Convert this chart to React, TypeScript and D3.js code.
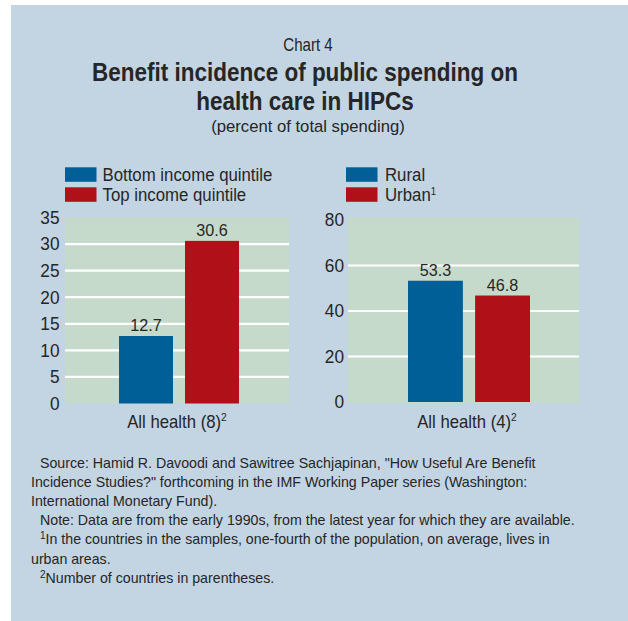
import React from "react";
import * as d3 from "d3";

const incomeCategories = ["Bottom income quintile", "Top income quintile"];
const incomeValues = [12.7, 30.6];
const incomeTicks = [0, 5, 10, 15, 20, 25, 30, 35];
const incomeAxisLabel = "All health (8)";

const areaCategories = ["Rural", "Urban"];
const areaValues = [53.3, 46.8];
const areaTicks = [0, 20, 40, 60, 80];
const areaAxisLabel = "All health (4)";

const footLines = [
  { t: "Source: Hamid R. Davoodi and Sawitree Sachjapinan, \"How Useful Are Benefit", indent: true, sup: "" },
  { t: "Incidence Studies?\" forthcoming in the IMF Working Paper series (Washington:", indent: false, sup: "" },
  { t: "International Monetary Fund).", indent: false, sup: "" },
  { t: "Note: Data are from the early 1990s, from the latest year for which they are available.", indent: true, sup: "" },
  { t: "In the countries in the samples, one-fourth of the population, on average, lives in", indent: true, sup: "1" },
  { t: "urban areas.", indent: false, sup: "" },
  { t: "Number of countries in parentheses.", indent: true, sup: "2" },
];

const COLORS = ["#005f97", "#b01018"];
const FONT = "'Liberation Sans', Arial, sans-serif";
const TEXT = "#262626";
const BG = "#c3d4e3";
const PLOT_BG = "#c6dacb";

type TProps = {
  x: number;
  y: number;
  sx?: number;
  size: number;
  anchor?: "start" | "middle" | "end";
  weight?: string;
  children?: React.ReactNode;
};

function T({ x, y, sx = 1, size, anchor = "start", weight = "normal", children }: TProps) {
  return (
    <text
      transform={`translate(${x},${y}) scale(${sx},1)`}
      textAnchor={anchor}
      fontSize={size}
      fontWeight={weight}
      fill={TEXT}
      fontFamily={FONT}
    >
      {children}
    </text>
  );
}

type PanelProps = {
  cats: string[];
  vals: number[];
  ticks: number[];
  domainMax: number;
  plotX0: number;
  plotX1: number;
  barX0: number;
  barX1: number;
  yTop: number;
  yZero: number;
  tickRight: number;
  legendX: number;
  legendTextX: number;
  label: string;
  labelSup: string;
  sups: string[];
};

function Panel(p: PanelProps) {
  const plotTop = 217.5;
  const plotBottom = 403;
  const y = d3.scaleLinear().domain([0, p.domainMax]).range([p.yZero, p.yTop]);
  const x = d3
    .scaleBand<string>()
    .domain(p.cats)
    .range([p.barX0, p.barX1])
    .paddingInner(12 / 66);
  const center = (p.barX0 + p.barX1) / 2;
  return (
    <g>
      {p.cats.map((c, i) => (
        <g key={c}>
          <rect x={p.legendX} y={167.3 + i * 20} width={31.5} height={14.5} fill={COLORS[i]} />
          <T x={p.legendTextX} y={180.7 + i * 20} size={17.5} sx={0.96}>
            {c}
            {p.sups[i] ? (
              <tspan fontSize={10} dy={-6}>
                {p.sups[i]}
              </tspan>
            ) : null}
          </T>
        </g>
      ))}
      <rect x={p.plotX0} y={plotTop} width={p.plotX1 - p.plotX0} height={plotBottom - plotTop} fill={PLOT_BG} />
      {p.ticks
        .filter((t) => t > 0 && t < p.domainMax)
        .map((t) => (
          <line key={t} x1={p.plotX0} x2={p.plotX1} y1={y(t)} y2={y(t)} stroke="#ffffff" strokeWidth={2.2} />
        ))}
      {p.ticks.map((t) => (
        <T key={"t" + t} x={p.tickRight} y={y(t) + 6.3} anchor="end" size={17.8} sx={0.97}>
          {t}
        </T>
      ))}
      {p.cats.map((c, i) => (
        <g key={"b" + c}>
          <rect
            x={x(c)}
            y={y(p.vals[i])}
            width={x.bandwidth()}
            height={p.yZero - y(p.vals[i])}
            fill={COLORS[i]}
          />
          <T x={(x(c) as number) + x.bandwidth() / 2} y={y(p.vals[i]) - 5} anchor="middle" size={16.5} sx={0.98}>
            {p.vals[i].toFixed(1)}
          </T>
        </g>
      ))}
      <T x={center - 2} y={428.3} anchor="middle" size={18} sx={0.93}>
        {p.label}
        <tspan fontSize={11} dy={-7}>
          {p.labelSup}
        </tspan>
      </T>
    </g>
  );
}

export default function App() {
  return (
    <svg
      width={628}
      height={621}
      style={{ position: "absolute", left: 0, top: 0, display: "block" }}
      fontFamily={FONT}
    >
      <rect x={0} y={0} width={628} height={621} fill="#ffffff" />
      <rect x={11} y={5} width={617} height={616} fill={BG} />
      <T x={308} y={51} anchor="middle" size={18} sx={0.84}>
        Chart 4
      </T>
      <T x={305} y={80.5} anchor="middle" size={26} sx={0.865} weight="bold">
        Benefit incidence of public spending on
      </T>
      <T x={305} y={110} anchor="middle" size={26} sx={0.865} weight="bold">
        health care in HIPCs
      </T>
      <T x={308} y={131.5} anchor="middle" size={17} sx={0.98}>
        (percent of total spending)
      </T>
      <Panel
        cats={incomeCategories}
        vals={incomeValues}
        ticks={incomeTicks}
        domainMax={35}
        plotX0={65}
        plotX1={289}
        barX0={119}
        barX1={239}
        yTop={217.5}
        yZero={403.5}
        tickRight={59.5}
        legendX={65}
        legendTextX={102.5}
        label={incomeAxisLabel}
        labelSup="2"
        sups={["", ""]}
      />
      <Panel
        cats={areaCategories}
        vals={areaValues}
        ticks={areaTicks}
        domainMax={80}
        plotX0={348}
        plotX1={579}
        barX0={408}
        barX1={530}
        yTop={220}
        yZero={402}
        tickRight={344}
        legendX={346}
        legendTextX={385}
        label={areaAxisLabel}
        labelSup="2"
        sups={["", "1"]}
      />
      {footLines.map((l, i) => (
        <T key={i} x={l.indent ? 40 : 31} y={467.5 + i * 19.2} size={14.2} sx={1.0}>
          {l.sup ? (
            <tspan fontSize={10} dy={-5}>
              {l.sup}
            </tspan>
          ) : null}
          {l.sup ? <tspan dy={5}>{l.t}</tspan> : l.t}
        </T>
      ))}
    </svg>
  );
}
